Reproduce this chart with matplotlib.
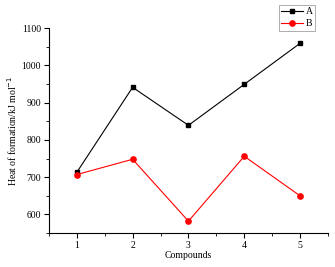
import matplotlib
matplotlib.use("Agg")
import matplotlib.pyplot as plt
from matplotlib.ticker import MultipleLocator

compounds = [1, 2, 3, 4, 5]
series_a = [713, 941, 839, 949, 1059]
series_b = [707, 748, 582, 756, 650]

plt.rcParams['font.family'] = ['Liberation Serif', 'DejaVu Serif']
fig = plt.figure(figsize=(3.35, 2.67), dpi=100)
ax = fig.add_axes([0.146, 0.127, 0.833, 0.768])
ax.plot(compounds, series_a, color='black', marker='s', markersize=3.5, linewidth=0.8, label='A')
ax.plot(compounds, series_b, color='red', marker='o', markersize=3.8, linewidth=0.8, label='B')
ax.set_xlim(0.5, 5.5)
ax.set_ylim(550, 1100)
ax.set_xticks(compounds)
ax.xaxis.set_minor_locator(MultipleLocator(0.5))
ax.yaxis.set_major_locator(MultipleLocator(100))
ax.yaxis.set_minor_locator(MultipleLocator(50))
for s in ['top', 'right']:
    ax.spines[s].set_visible(False)
for s in ['left', 'bottom']:
    ax.spines[s].set_linewidth(0.8)
ax.tick_params(which='major', direction='out', length=3.6, width=0.8, labelsize=7, pad=2)
ax.tick_params(which='minor', direction='out', length=2.2, width=0.6)
ax.set_xlabel('Compounds', fontsize=7, labelpad=1)
ax.set_ylabel('Heat of formation/kJ mol$^{-1}$', fontsize=7, labelpad=2)
leg = ax.legend(loc='upper left', bbox_to_anchor=(279/335, 1-5/267), bbox_transform=fig.transFigure,
                fontsize=7, frameon=True, fancybox=False, edgecolor='#888888', handlelength=2.2,
                borderpad=0.25, labelspacing=0.3, handletextpad=0.3, borderaxespad=0)
leg.get_frame().set_linewidth(0.6)
fig.savefig('out.png', dpi=100)
